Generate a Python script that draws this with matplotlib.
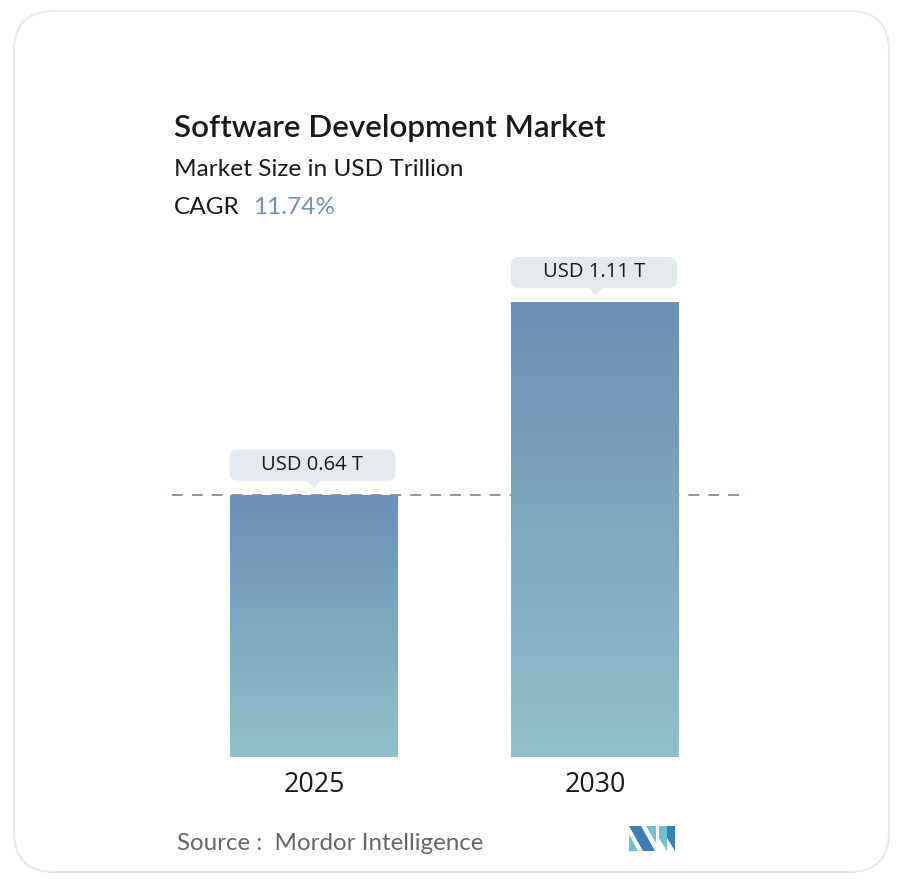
import matplotlib
matplotlib.use("Agg")
import matplotlib.pyplot as plt
import numpy as np
from matplotlib.patches import FancyBboxPatch, Polygon
from matplotlib.colors import LinearSegmentedColormap

# ---- data ----
years = ["2025", "2030"]
values = [0.64, 1.11]
value_labels = ["USD 0.64 T", "USD 1.11 T"]
title = "Software Development Market"
subtitle = "Market Size in USD Trillion"
cagr_label = "CAGR"
cagr_value = "11.74%"
source_text = "Source :  Mordor Intelligence"

W, H = 904, 886
fig = plt.figure(figsize=(W / 100, H / 100), dpi=100)
fig.patch.set_facecolor("white")

def fx(x):
    return x / W

def fy(y):
    return 1 - y / H

# overlay axes in pixel coordinates (card, logo)
ov = fig.add_axes([0, 0, 1, 1], zorder=0)
ov.set_xlim(0, W)
ov.set_ylim(H, 0)
ov.axis("off")
card = FancyBboxPatch((14, 11), 875, 861, boxstyle="round,pad=0,rounding_size=40",
                      facecolor="white", edgecolor="#e9e9e9", linewidth=1.5)
ov.add_patch(card)

# logo
blue = "#3d7fb4"
teal = "#6cc3cf"
ov.add_patch(Polygon([(629, 834), (629, 851), (638, 851)], closed=True, fc=teal, ec="none"))
ov.add_patch(Polygon([(629, 826), (641, 826), (655, 851), (643, 851)], closed=True, fc=blue, ec="none"))
ov.add_patch(Polygon([(646, 826), (656, 826), (656, 843)], closed=True, fc=teal, ec="none"))
ov.add_patch(Polygon([(659, 826), (667, 826), (667, 851), (659, 838)], closed=True, fc=teal, ec="none"))
ov.add_patch(Polygon([(667, 826), (675, 826), (675, 851), (667, 838)], closed=True, fc=blue, ec="none"))

# main axes
px_per_unit = 410.0
bottom_px = 757
ax_left, ax_right = 172, 740
ymax = 1.3
ax_h = ymax * px_per_unit
ax = fig.add_axes([fx(ax_left), (H - bottom_px) / H, (ax_right - ax_left) / W, ax_h / H], zorder=1)
ax.patch.set_alpha(0)

centers_px = [314, 595.5]
step = centers_px[1] - centers_px[0]
x = np.arange(len(years))
xl = -(centers_px[0] - ax_left) / step
xr = 1 + (ax_right - centers_px[1]) / step
ax.set_xlim(xl, xr)
ax.set_ylim(0, ymax)
bar_w = 168 / step

ax.axhline(values[0], color="#7d8fa6", lw=1.3, dashes=(6, 5), zorder=1)

bars = ax.bar(x, values, width=bar_w, color="none", edgecolor="none", zorder=2)
cmap = LinearSegmentedColormap.from_list("g", ["#91c1c9", "#6b8fb6"])
grad = np.linspace(0, 1, 256).reshape(-1, 1)
for b in bars:
    x0 = b.get_x()
    im = ax.imshow(grad, extent=[x0, x0 + b.get_width(), 0, b.get_height()],
                   origin="lower", cmap=cmap, aspect="auto", zorder=2)
    im.set_clip_path(b)

ax.set_xlim(xl, xr)
ax.set_ylim(0, ymax)

# value labels
ux = 1 / step          # data units per px in x
uy = 1 / px_per_unit   # data units per px in y
for xi, v, lab in zip(x, values, value_labels):
    bw = 166 * ux
    bh = 31 * uy
    by = v + 14 * uy
    box = FancyBboxPatch((xi - bw / 2 - 1.5 * ux, by), bw, bh,
                         boxstyle="round,pad=0,rounding_size=%f" % (8 * ux),
                         mutation_aspect=uy / ux,
                         facecolor="#e3e9ed", edgecolor="none", zorder=3)
    ax.add_patch(box)
    tri = Polygon([(xi - 7 * ux, by + 0.5 * uy), (xi + 7 * ux, by + 0.5 * uy), (xi, v + 6 * uy)],
                  closed=True, fc="#e3e9ed", ec="none", zorder=3)
    ax.add_patch(tri)
    ax.text(xi - 1.5 * ux, by + bh / 2, lab, ha="center", va="center", fontsize=14.5,
            family="Open Sans", color="#1a1a1a", zorder=4)

ax.set_xticks(x)
ax.set_xticklabels(years, fontsize=19.3, family="Open Sans", color="#1a1a1a")
ax.tick_params(axis="x", length=0, pad=10)
ax.set_yticks([])
for s in ax.spines.values():
    s.set_visible(False)

# titles
fig.text(fx(174), fy(128), title, fontsize=22.6, family="Lato", weight="semibold",
         color="#1a1a1a", va="center", ha="left")
fig.text(fx(174), fy(170), subtitle, fontsize=17.6, family="Lato", color="#1a1a1a",
         va="center", ha="left")
t = fig.text(fx(174), fy(208), cagr_label, fontsize=17.6, family="Lato",
             color="#1a1a1a", va="center", ha="left")
fig.canvas.draw()
bb = t.get_window_extent()
fig.text((bb.x1 + 13) / W, fy(208), cagr_value, fontsize=17.6, family="Lato",
         color="#6f93b8", va="center", ha="left")

fig.text(fx(177), fy(843), source_text, fontsize=17.4, family="Lato", color="#666666",
         va="center", ha="left")

fig.savefig("out.png", dpi=100)
